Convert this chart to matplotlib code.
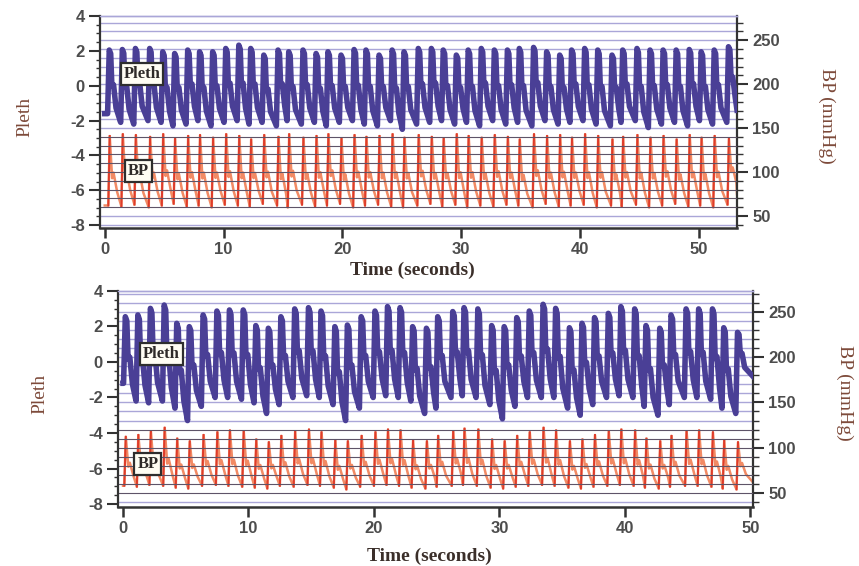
import matplotlib
matplotlib.use('Agg')
import matplotlib.pyplot as plt
import matplotlib.ticker as ticker

plt.rcParams['axes.unicode_minus'] = False

# ---- top record (53 s) : one value per beat ----
top_beat_t = [0.4, 1.5, 2.6, 3.8, 4.9, 5.9, 7.0, 8.0, 9.1, 10.2,
              11.3, 12.3, 13.4, 14.6, 15.5, 16.7, 17.8, 18.8, 19.9, 21.0,
              22.0, 23.1, 24.2, 25.2, 26.4, 27.5, 28.5, 29.6, 30.6, 31.7,
              32.8, 33.9, 34.9, 36.1, 37.2, 38.3, 39.3, 40.4, 41.5, 42.7,
              43.6, 44.8, 45.9, 47.0, 48.1, 49.2, 50.2, 51.3, 52.5]
top_pleth_peak = [2.05, 2.08, 2.14, 2.14, 1.95, 1.85, 2.05, 1.95, 1.95, 2.14,
                  2.33, 2.14, 1.76, 2.05, 1.95, 2.05, 1.85, 1.95, 1.76, 2.08,
                  2.05, 1.76, 2.05, 1.95, 2.14, 2.14, 2.05, 1.76, 2.05, 2.14,
                  2.05, 2.05, 2.14, 2.20, 1.95, 1.76, 2.05, 2.14, 2.05, 1.76,
                  2.05, 2.14, 2.05, 2.05, 2.05, 2.08, 1.95, 2.05, 2.24]
top_pleth_trough = [-1.6, -2.1, -2.2, -2.0, -2.1, -2.3, -2.2, -2.0, -2.3, -2.1,
                    -2.0, -2.2, -2.1, -2.3, -2.0, -2.2, -2.1, -2.3, -2.1, -2.0,
                    -2.2, -2.3, -2.0, -2.5, -2.2, -2.1, -2.0, -2.2, -2.1, -2.3,
                    -2.0, -2.2, -2.1, -2.3, -2.0, -2.2, -2.1, -2.0, -2.2, -2.3,
                    -2.1, -2.0, -2.4, -2.2, -2.1, -2.3, -2.0, -2.2, -2.1]
top_pleth_end = -1.4
top_bp_sys = [141, 143, 142, 140, 143, 138, 141, 142, 139, 143,
              141, 137, 142, 140, 143, 139, 141, 143, 138, 142,
              140, 141, 143, 139, 142, 140, 138, 143, 141, 139,
              142, 140, 137, 143, 141, 142, 139, 143, 141, 137,
              140, 142, 139, 141, 137, 142, 139, 141, 138]
top_bp_dia = [62, 61, 63, 60, 62, 64, 61, 62, 60, 63,
              62, 61, 64, 62, 60, 63, 61, 62, 64, 60,
              62, 63, 61, 60, 62, 64, 61, 63, 60, 62,
              61, 63, 62, 60, 64, 61, 62, 63, 60, 62,
              61, 63, 60, 62, 64, 61, 62, 60, 63]
top_bp_end = 75

# ---- bottom record (50 s) ----
bot_beat_t = [0.2, 1.2, 2.2, 3.3, 4.3, 5.3, 6.4, 7.5, 8.5, 9.6,
              10.6, 11.6, 12.6, 13.7, 14.8, 15.8, 16.9, 17.9, 19.0, 20.1,
              21.1, 22.1, 23.1, 24.2, 25.1, 26.3, 27.2, 28.3, 29.4, 30.4,
              31.4, 32.4, 33.5, 34.5, 35.6, 36.6, 37.6, 38.7, 39.7, 40.8,
              41.7, 42.8, 43.7, 44.9, 45.9, 47.0, 47.9, 49.0]
bot_pleth_peak = [2.55, 2.65, 3.02, 3.21, 2.18, 1.99, 2.65, 2.87, 2.93, 2.93,
                  2.05, 1.90, 2.55, 2.99, 3.06, 2.87, 1.99, 2.08, 2.55, 2.87,
                  3.12, 3.06, 1.99, 1.90, 2.55, 2.84, 3.06, 2.99, 2.05, 1.99,
                  2.50, 2.87, 3.25, 3.02, 1.93, 2.18, 2.50, 2.74, 3.12, 2.99,
                  2.05, 1.90, 2.65, 2.99, 2.99, 2.99, 1.93, 1.67]
bot_pleth_trough = [-1.2, -2.2, -2.3, -2.2, -2.6, -3.3, -2.5, -2.0, -2.0, -2.1,
                    -2.3, -2.9, -2.4, -2.0, -1.9, -2.0, -2.4, -3.3, -2.6, -2.0,
                    -1.9, -2.0, -2.2, -2.9, -2.6, -2.0, -1.9, -2.0, -2.4, -3.2,
                    -2.5, -2.0, -2.0, -2.0, -2.6, -3.0, -2.4, -2.0, -1.9, -2.0,
                    -2.5, -3.0, -2.4, -2.0, -2.0, -2.1, -2.6, -2.9]
bot_pleth_end = -0.8
bot_bp_sys = [112, 114, 118, 122, 110, 107, 114, 117, 119, 118,
              109, 106, 113, 118, 120, 117, 108, 107, 113, 117,
              120, 119, 108, 107, 113, 118, 121, 120, 109, 107,
              113, 117, 122, 119, 107, 109, 114, 118, 120, 119,
              110, 107, 113, 118, 119, 117, 108, 106]
bot_bp_dia = [58, 57, 59, 58, 56, 55, 58, 59, 58, 57,
              56, 55, 58, 57, 59, 58, 56, 54, 57, 58,
              59, 58, 56, 55, 57, 58, 59, 58, 56, 55,
              57, 58, 59, 58, 56, 55, 57, 58, 59, 58,
              56, 55, 57, 58, 58, 57, 55, 54]
bot_bp_end = 62

PLETH_C = '#4a3f96'
BP_C = '#f28a64'
BP_UP_C = '#de3b2a'
LABEL_C = '#7d4a3a'
TICK_C = '#4d4d4d'

# beat shape: (seconds after the peak time, fraction of the beat amplitude)
PLETH_SHAPE = [(-0.02, 1.0), (0.1, 0.95), (0.2, 0.5), (0.34, 0.52), (0.55, 0.2)]
BP_SHAPE = [(0.02, 1.0), (0.22, 0.4), (0.34, 0.48), (0.65, 0.2)]


def build_wave(times, peaks, troughs, end_val, t_end, rise, shape):
    """trough -> upstroke -> peak -> notch -> fall, one cycle per beat"""
    xs, ys, ups = [0.0], [troughs[0]], []
    for i, tp in enumerate(times):
        nxt = troughs[i + 1] if i + 1 < len(troughs) else end_val
        amp = peaks[i] - nxt
        xs.append(tp - rise)
        ys.append(troughs[i])
        for dt, f in shape:
            xs.append(tp + dt)
            ys.append(nxt + f * amp)
        ups.append(((tp - rise, tp + shape[0][0]), (troughs[i], peaks[i])))
    xs.append(t_end)
    ys.append(end_val)
    return xs, ys, ups


def panel(rect, beat_t, p_peak, p_trough, p_end, b_sys, b_dia, b_end,
          xlim, bp_lim, xlab_y, lab_x, leg_p, leg_b):
    ax = fig.add_axes(rect)
    ax2 = ax.twinx()
    ax.set_zorder(ax2.get_zorder() + 1)
    ax.patch.set_visible(False)

    # horizontal grid, 10 mmHg apart
    lo, hi = min(b_dia), max(b_sys)
    for v in range(30, 290, 10):
        if lo - 5 <= v <= hi + 5:
            ax2.axhline(v, color='#5e5468', lw=0.8, zorder=3)
        else:
            ax2.axhline(v, color='#aaa6d8', lw=1.0, zorder=0)

    bx, by, bups = build_wave(beat_t, b_sys, b_dia, b_end, xlim[1], 0.1, BP_SHAPE)
    ax2.plot(bx, by, color=BP_C, lw=1.8, zorder=2)
    for ux, uy in bups:
        ax2.plot(ux, uy, color=BP_UP_C, lw=1.4, zorder=2.5)
    px, py, _ = build_wave(beat_t, p_peak, p_trough, p_end, xlim[1], 0.16, PLETH_SHAPE)
    ax.plot(px, py, color=PLETH_C, lw=4.0, solid_joinstyle='round')

    ax.set_xlim(*xlim)
    ax.set_ylim(-8.17, 4.0)
    ax2.set_ylim(*bp_lim)

    ax.xaxis.set_major_locator(ticker.MultipleLocator(10))
    ax.yaxis.set_major_locator(ticker.MultipleLocator(2))
    ax.yaxis.set_minor_locator(ticker.MultipleLocator(0.5))
    ax2.yaxis.set_major_locator(ticker.MultipleLocator(50))
    ax2.yaxis.set_minor_locator(ticker.MultipleLocator(10))
    ax.tick_params(axis='x', which='major', length=7, width=1.8, color='#333333',
                   labelsize=12, labelcolor=TICK_C, pad=3)
    ax.tick_params(axis='y', which='major', length=8, width=1.5, color='#333333',
                   labelsize=12, labelcolor=TICK_C, pad=3)
    ax.tick_params(axis='y', which='minor', length=3, width=1.0, color='#333333')
    ax2.tick_params(axis='y', which='major', length=8, width=1.5, color='#333333',
                    labelsize=12, labelcolor=TICK_C, pad=3)
    ax2.tick_params(axis='y', which='minor', length=4, width=1.0, color='#333333')
    for lab in ax.get_xticklabels() + ax.get_yticklabels() + ax2.get_yticklabels():
        lab.set_fontfamily('Liberation Sans')
        lab.set_fontweight('bold')

    for a in (ax, ax2):
        a.spines['top'].set_color('#aaa6d8')
        a.spines['top'].set_linewidth(1.0)
    ax.spines['left'].set_linewidth(1.6)
    ax.spines['left'].set_color('#333333')
    ax.spines['bottom'].set_linewidth(1.8)
    ax.spines['bottom'].set_color('#333333')
    ax.spines['right'].set_visible(False)
    ax2.spines['left'].set_visible(False)
    ax2.spines['bottom'].set_visible(False)
    ax2.spines['right'].set_linewidth(1.6)
    ax2.spines['right'].set_color('#333333')

    ax.set_xlabel('Time (seconds)', fontsize=14, fontweight='bold',
                  family='Liberation Serif', color='#3b2f2a')
    ax.xaxis.set_label_coords(0.491, xlab_y)
    ax.set_ylabel('Pleth', fontsize=14, family='Liberation Serif', color=LABEL_C)
    ax.yaxis.set_label_coords(lab_x[0], 0.525)
    ax2.set_ylabel('BP (mmHg)', fontsize=14, family='Liberation Serif',
                   color=LABEL_C, rotation=270, va='center')
    ax2.yaxis.set_label_coords(lab_x[1], 0.53)

    box = dict(boxstyle='square,pad=0.18', fc='#fffdf3', ec='#2e2e2e', lw=1.6)
    ax.text(leg_p[0], leg_p[1], 'Pleth', transform=ax.transAxes, ha='center',
            va='center', fontsize=12, fontweight='bold', family='Liberation Serif',
            color='#2e2a28', bbox=box, zorder=10)
    ax.text(leg_b[0], leg_b[1], 'BP', transform=ax.transAxes, ha='center',
            va='center', fontsize=12, fontweight='bold', family='Liberation Serif',
            color='#2e2a28', bbox=box, zorder=10)
    return ax, ax2


fig = plt.figure(figsize=(8.59, 5.66), dpi=100)
fig.patch.set_facecolor('white')

panel([0.1164, 0.597, 0.7416, 0.3746], top_beat_t, top_pleth_peak, top_pleth_trough,
      top_pleth_end, top_bp_sys, top_bp_dia, top_bp_end, (-0.4, 53.2), (36.3, 277.4),
      -0.157, (-0.104, 1.141), (0.066, 0.726), (0.06, 0.269))
panel([0.1374, 0.1042, 0.739, 0.3817], bot_beat_t, bot_pleth_peak, bot_pleth_trough,
      bot_pleth_end, bot_bp_sys, bot_bp_dia, bot_bp_end, (-0.4, 50.2), (34.5, 273.0),
      -0.19, (-0.11, 1.145), (0.068, 0.708), (0.047, 0.199))

fig.savefig('out.png', dpi=100, facecolor='white')
